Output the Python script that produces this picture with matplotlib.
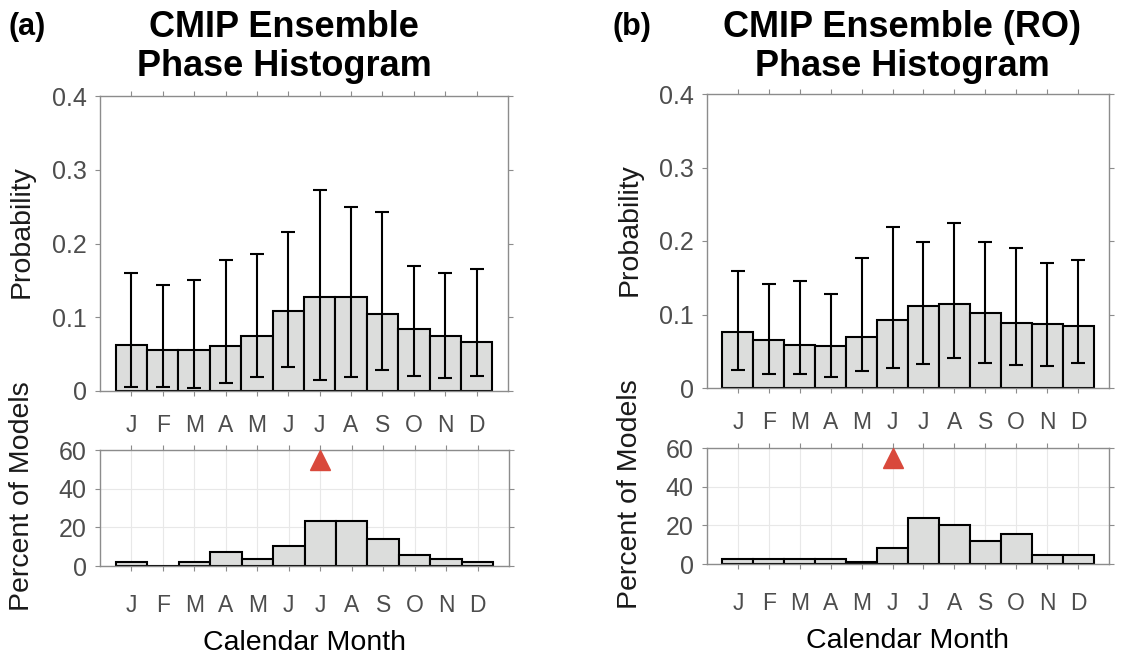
import numpy as np
import matplotlib
matplotlib.use("Agg")
import matplotlib.pyplot as plt

plt.rcParams['font.family'] = ['Liberation Sans', 'DejaVu Sans']

months = ['J', 'F', 'M', 'A', 'M', 'J', 'J', 'A', 'S', 'O', 'N', 'D']

# panel (a): CMIP ensemble
prob_a = [0.062, 0.056, 0.056, 0.061, 0.075, 0.108, 0.127, 0.128, 0.104, 0.084, 0.074, 0.066]
err_hi_a = [0.160, 0.144, 0.150, 0.178, 0.186, 0.216, 0.272, 0.250, 0.243, 0.170, 0.160, 0.166]
err_lo_a = [0.005, 0.005, 0.004, 0.011, 0.019, 0.033, 0.015, 0.019, 0.028, 0.020, 0.018, 0.021]
pct_a = [2.3, 0, 2.3, 7.0, 3.5, 10.5, 23.5, 23.5, 14.0, 5.8, 3.5, 2.3]
peak_a = 7

# panel (b): CMIP ensemble (RO)
prob_b = [0.076, 0.065, 0.058, 0.057, 0.069, 0.092, 0.112, 0.114, 0.102, 0.089, 0.087, 0.084]
err_hi_b = [0.159, 0.142, 0.145, 0.128, 0.177, 0.219, 0.198, 0.225, 0.198, 0.190, 0.170, 0.174]
err_lo_b = [0.025, 0.019, 0.019, 0.015, 0.023, 0.027, 0.032, 0.041, 0.034, 0.031, 0.030, 0.034]
pct_b = [2.4, 2.4, 2.4, 2.4, 1.2, 8.3, 23.8, 20.2, 11.9, 15.5, 4.8, 4.8]
peak_b = 6

titles = ['CMIP Ensemble\nPhase Histogram', 'CMIP Ensemble (RO)\nPhase Histogram']
tags = ['(a)', '(b)']

W, H = 1142, 657
fig = plt.figure(figsize=(W / 100, H / 100), dpi=100)

def frac(left, top, right, bottom):
    return [left / W, 1 - bottom / H, (right - left) / W, (bottom - top) / H]

layout = [
    dict(top=frac(100, 96, 508, 391), bot=frac(100, 450, 509, 566), title_x=284, tag_x=8),
    dict(top=frac(707, 94, 1109, 388), bot=frac(707, 448, 1109, 564), title_x=902, tag_x=612),
]

bar_face = '#dcdddc'
spine_col = '#8c8c8c'
tick_col = '#4d4d4d'
x = np.arange(1, 13)

def style(ax, xpad):
    for s in ax.spines.values():
        s.set_color(spine_col)
        s.set_linewidth(1.0)
    ax.tick_params(axis='both', direction='out', length=3.5, width=0.8, color=spine_col,
                   top=True, right=True, labelcolor=tick_col)
    ax.tick_params(axis='y', labelsize=18, pad=6)
    ax.tick_params(axis='x', labelsize=16.5, pad=xpad)
    ax.set_xlim(0, 13)
    ax.set_xticks(x)
    ax.set_xticklabels(months)

for i, (prob, hi, lo, pct, peak) in enumerate([
        (prob_a, err_hi_a, err_lo_a, pct_a, peak_a),
        (prob_b, err_hi_b, err_lo_b, pct_b, peak_b)]):
    lay = layout[i]
    prob = np.array(prob)
    yerr = [prob - np.array(lo), np.array(hi) - prob]

    ax1 = fig.add_axes(lay['top'])
    ax1.bar(x, prob, width=1.0, color=bar_face, edgecolor='black', linewidth=1.5, zorder=2)
    ax1.errorbar(x, prob, yerr=yerr, fmt='none', ecolor='black', elinewidth=1.5,
                 capsize=5, capthick=1.5, zorder=3)
    ax1.set_ylim(0, 0.4)
    ax1.set_yticks([0, 0.1, 0.2, 0.3, 0.4])
    ax1.set_yticklabels(['0', '0.1', '0.2', '0.3', '0.4'])
    style(ax1, 13)
    ax1.set_ylabel('Probability', fontsize=20.5, color='#1a1a1a')
    ax1.yaxis.set_label_coords(-0.16, 0.54)

    ax2 = fig.add_axes(lay['bot'])
    ax2.grid(True, color='#e8e8e8', linewidth=0.8, zorder=0)
    ax2.set_axisbelow(True)
    ax2.bar(x, pct, width=1.0, color=bar_face, edgecolor='black', linewidth=1.5, zorder=2)
    ax2.plot([peak], [55], marker='^', markersize=15, color='#d9493c', zorder=4)
    ax2.set_ylim(0, 60)
    ax2.set_yticks([0, 20, 40, 60])
    style(ax2, 17)
    ax2.set_ylabel('Percent of Models', fontsize=20.5, color='#1a1a1a')
    ax2.yaxis.set_label_coords(-0.16, 0.60)
    ax2.set_xlabel('Calendar Month', fontsize=20.5, color='black', labelpad=9)

    fig.text(lay['title_x'] / W, 1 - 10 / H, titles[i], ha='center', va='top',
             fontsize=26, fontweight='bold', linespacing=1.15)
    fig.text(lay['tag_x'] / W, 1 - 12 / H, tags[i], ha='left', va='top',
             fontsize=22, fontweight='bold')

fig.savefig('out.png', dpi=100)
